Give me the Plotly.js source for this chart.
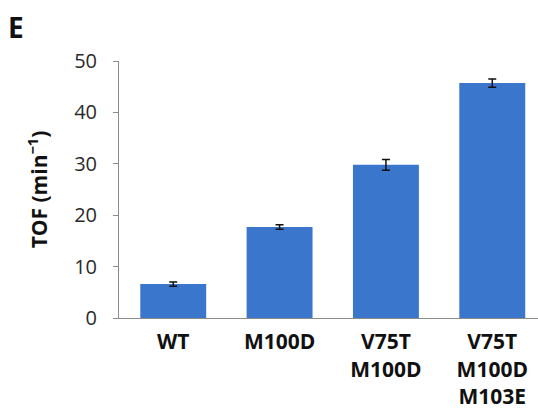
<!DOCTYPE html>
<html>
<head>
<meta charset="utf-8">
<script src="https://cdn.plot.ly/plotly-3.0.1.min.js"></script>
<style>html,body{margin:0;padding:0;background:#fff;}#chart{width:538px;height:414px;}</style>
</head>
<body>
<div id="chart"></div>
<script>
const categories = ["WT", "M100D", "V75T<br>M100D", "V75T<br>M100D<br>M103E"];
const tofValues = [6.6, 17.7, 29.8, 45.7];
const tofErrors = [0.4, 0.45, 1.05, 0.8];
const yTicks = [0, 10, 20, 30, 40, 50];

const trace = {
  type: "bar",
  x: categories,
  y: tofValues,
  marker: {color: "#3a77cc", line: {width: 0}},
  error_y: {type: "data", array: tofErrors, visible: true, color: "#111", thickness: 1.5, width: 4}
};

const layout = {
  width: 538, height: 414,
  margin: {l: 119, r: 0, t: 61, b: 96},
  paper_bgcolor: "#fff", plot_bgcolor: "#fff",
  bargap: 0.38,
  showlegend: false,
  font: {family: "Open Sans, Liberation Sans, sans-serif", color: "#222"},
  xaxis: {
    type: "category",
    range: [-0.51, 3.43],
    showline: true, linecolor: "#8c8c8c", linewidth: 1,
    ticks: "", showgrid: false, zeroline: false,
    tickfont: {size: 21, color: "#111", weight: "bold"},
    ticklabelstandoff: 5,
    fixedrange: true
  },
  yaxis: {
    range: [0, 50],
    tickvals: yTicks,
    showline: true, linecolor: "#8c8c8c", linewidth: 1,
    ticks: "outside", ticklen: 5, tickcolor: "#8c8c8c",
    showgrid: false, zeroline: false,
    tickfont: {size: 20, color: "#2a2a2a"},
    ticklabelstandoff: 12,
    title: {text: "TOF (min<sup>−1</sup>)", font: {size: 21, color: "#111", weight: "bold"}, standoff: 20}
  },
  annotations: [{
    text: "<b>E</b>", xref: "paper", yref: "paper", x: -119/419, y: 1 + 61/257,
    xanchor: "left", yanchor: "top", xshift: 6, yshift: -6, showarrow: false,
    font: {size: 28, color: "#111"}
  }]
};

Plotly.newPlot("chart", [trace], layout, {displayModeBar: false, staticPlot: true});
</script>
</body>
</html>
